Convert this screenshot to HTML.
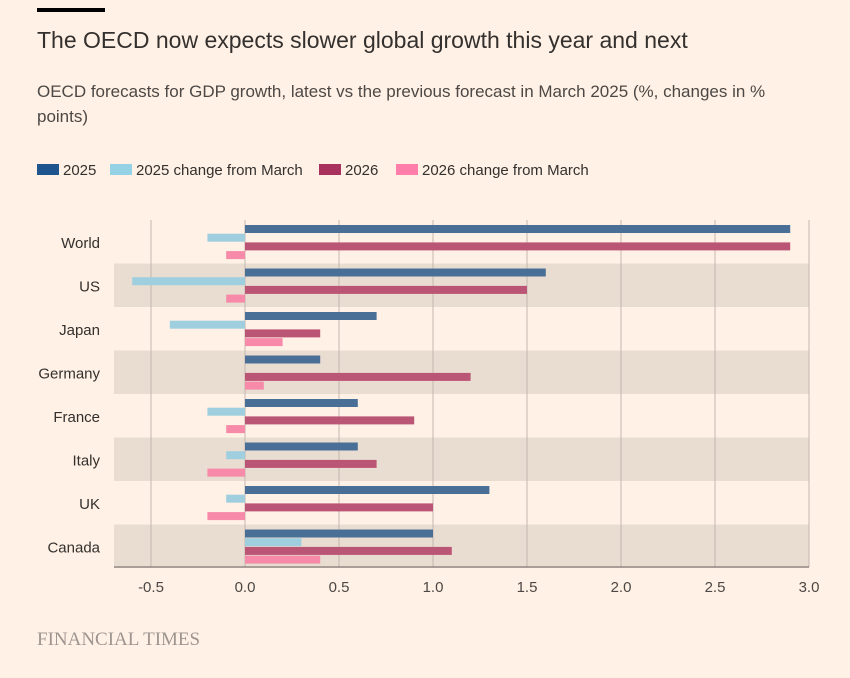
<!DOCTYPE html>
<html><head><meta charset="utf-8"><style>
body{margin:0;background:#fff1e5;width:850px;height:673px;overflow:hidden;font-family:"Liberation Sans",sans-serif;}
</style></head><body>
<svg width="850" height="673" xmlns="http://www.w3.org/2000/svg">
<rect x="37" y="8" width="68" height="4" fill="#000"/>
<text x="37" y="48" font-size="23" fill="#33302e">The OECD now expects slower global growth this year and next</text>
<text x="37" y="97" font-size="17" fill="#4d4845">OECD forecasts for GDP growth, latest vs the previous forecast in March 2025 (%, changes in %</text>
<text x="37" y="122" font-size="17" fill="#4d4845">points)</text>
<g id="legend"></g>
<g id="plot"></g>
<text x="37" y="645" font-size="19" fill="#9e9590" font-family="Liberation Serif,serif">FINANCIAL TIMES</text>
</svg>
<script>
const categories=["World","US","Japan","Germany","France","Italy","UK","Canada"];
const v2025=[2.9,1.6,0.7,0.4,0.6,0.6,1.3,1.0];
const c2025=[-0.2,-0.6,-0.4,0,-0.2,-0.1,-0.1,0.3];
const v2026=[2.9,1.5,0.4,1.2,0.9,0.7,1.0,1.1];
const c2026=[-0.1,-0.1,0.2,0.1,-0.1,-0.2,-0.2,0.4];
const ticks=[-0.5,0,0.5,1,1.5,2,2.5,3];
const tickLabels=["-0.5","0.0","0.5","1.0","1.5","2.0","2.5","3.0"];
const seriesNames=["2025","2025 change from March","2026","2026 change from March"];
const NS="http://www.w3.org/2000/svg";
const x=v=>245+v*188;
const rowTop=i=>220+i*43.5;
const plot=document.getElementById('plot'),legend=document.getElementById('legend');
function mk(tag,attrs,parent){const e=document.createElementNS(NS,tag);for(const k in attrs)e.setAttribute(k,attrs[k]);parent.appendChild(e);return e;}
const barColors=["#4a6f97","#9fcfdf","#bb5575","#f68aa8"];
const legColors=["#1e558f","#96d2e6","#a8325d","#ff7faa"];
categories.forEach((c,i)=>{if(i%2==1){const r=mk('rect',{x:114,y:rowTop(i),width:695,height:43.5,fill:'#e9ddd2'},plot);

}});
ticks.forEach((t,i)=>{const l=mk('line',{x1:x(t),x2:x(t),y1:220,y2:567,stroke:'#c4b8ae','stroke-width':1},plot);


const tx=mk('text',{x:x(t),y:592,'font-size':15,fill:'#4d4845','text-anchor':'middle'},plot);tx.textContent=tickLabels[i];

});
const ax=mk('line',{x1:114,x2:809,y1:567,y2:567,stroke:'#66605c','stroke-width':1},plot);


const series=[v2025,c2025,v2026,c2026];
categories.forEach((c,i)=>{
 const t=mk('text',{x:100,y:rowTop(i)+28,'font-size':15,fill:'#33302e','text-anchor':'end'},plot);t.textContent=c;
 
 
 series.forEach((s,j)=>{const v=s[i];if(v===0)return;
  const b=mk('rect',{x:Math.min(x(0),x(v)),y:rowTop(i)+5+j*8.7,width:Math.abs(x(v)-x(0)),height:8,fill:barColors[j]},plot);
  
  });
});
const lpos=[37,110,319,396];
seriesNames.forEach((n,j)=>{const lx=lpos[j];const r=mk('rect',{x:lx,y:164,width:22,height:11,fill:legColors[j]},legend);


const t=mk('text',{x:lx+26,y:175,'font-size':15,fill:'#33302e'},legend);t.textContent=n;

});
</script>
</body></html>
